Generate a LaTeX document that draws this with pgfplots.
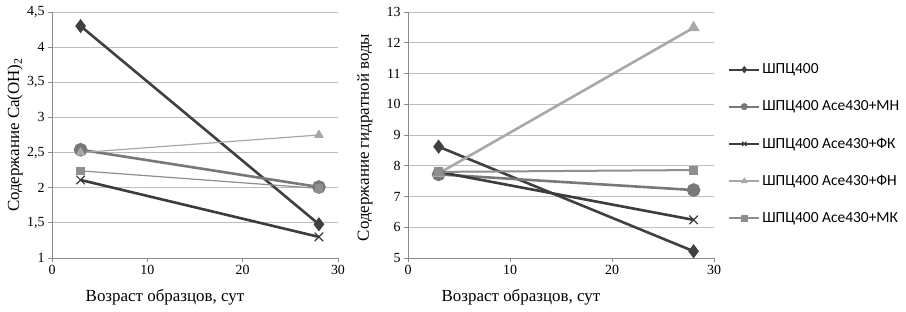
\documentclass[border=0pt]{standalone}
\usepackage{pgfplots}
\pgfplotsset{compat=1.18}
\usepackage{fontspec}
\setmainfont{Liberation Serif}
\newfontfamily\legfont{Carlito}
\definecolor{cA}{HTML}{404040}
\definecolor{cB}{HTML}{787878}
\definecolor{cC}{HTML}{3C3C3C}
\definecolor{cD}{HTML}{A8A8A8}
\definecolor{cE}{HTML}{8E8E8E}
\definecolor{gridc}{HTML}{BDBDBD}
\definecolor{axc}{HTML}{8A8A8A}
\pgfplotsset{
  mystyle/.style={
    scale only axis,
    axis lines*=left,
    axis line style={axc, line width=0.8bp, -},
    ymajorgrids, grid style={gridc, line width=0.8bp},
    xmin=0, xmax=30, xtick={0,10,20,30},
    tick style={axc, line width=0.8bp},
    tick align=outside, major tick length=4bp,
    xtick pos=left, ytick pos=left,
    /pgf/number format/assume math mode=true,
    /pgf/number format/use comma,
    tick label style={font=\fontsize{14}{16}\selectfont},
    label style={font=\fontsize{17}{19}\selectfont},
    xlabel={Возраст образцов, сут},
    anchor=south west,
  },
  sA/.style={cA, line width=2.6bp, mark=diamond*, mark size=5bp, mark options={solid, fill=cA}},
  sB/.style={cB, line width=2.6bp, mark=*, mark size=5.5bp, mark options={solid, fill=cB}},
  sC/.style={cC, line width=2.6bp, mark=x, mark size=6bp, mark options={solid, line width=1.2bp}},
  sE/.style={cE, mark=square*, mark size=3.5bp, mark options={solid, fill=cE}},
}
\begin{document}
\begin{tikzpicture}
\path[use as bounding box] (0,0) rectangle (906bp,312bp);
\begin{axis}[mystyle,
  at={(52bp,54bp)}, width=286bp, height=246bp,
  ymin=1, ymax=4.5, ytick={1,1.5,...,4.5},
  yticklabel style={/pgf/number format/fixed, /pgf/number format/precision=1},
  ylabel={Содержание Ca(OH)\textsubscript{2}},
  xlabel style={at={(axis description cs:0.395,0)}, anchor=center, yshift=-39bp},
  ylabel style={at={(axis description cs:-0.129,0.5)}, anchor=center},
]
\addplot[sA] coordinates {(3,4.30) (28,1.48)};
\addplot[sB] coordinates {(3,2.54) (28,2.01)};
\addplot[sC] coordinates {(3,2.11) (28,1.30)};
\addplot[cD, line width=1.2bp, mark=triangle*, mark size=4.5bp, mark options={solid, fill=cD}] coordinates {(3,2.50) (28,2.75)};
\addplot[sE, line width=1.2bp] coordinates {(3,2.24) (28,1.99)};
\end{axis}
\begin{axis}[mystyle,
  at={(408bp,54bp)}, width=306bp, height=246bp,
  ymin=5, ymax=13, ytick={5,6,...,13},
  ylabel={Содержание гидратной воды},
  xlabel style={at={(axis description cs:0.369,0)}, anchor=center, yshift=-39bp},
  ylabel style={at={(axis description cs:-0.141,0.49)}, anchor=center},
  legend style={at={(axis description cs:1.046,0.790)}, anchor=north west, draw=none, fill=none,
    font=\legfont\fontsize{15.5}{17}\selectfont, row sep=25.5bp, inner sep=0pt,
    nodes={inner xsep=2bp, inner ysep=0pt}},
  legend cell align=left,
  legend image code/.code={\draw[#1, line width=2bp, mark=none] (0bp,0bp) -- (30bp,0bp);
    \draw[#1, line width=1bp, mark size=3bp] plot coordinates {(15bp,0bp)};},
]
\addplot[sA] coordinates {(3,8.62) (28,5.22)};
\addlegendentry{ШПЦ400}
\addplot[sB] coordinates {(3,7.72) (28,7.21)};
\addlegendentry{ШПЦ400 Ace430+МН}
\addplot[sC] coordinates {(3,7.80) (28,6.24)};
\addlegendentry{ШПЦ400 Ace430+ФК}
\addplot[cD, line width=2.6bp, mark=triangle*, mark size=4.5bp, mark options={solid, fill=cD}] coordinates {(3,7.75) (28,12.49)};
\addlegendentry{ШПЦ400 Ace430+ФН}
\addplot[sE, line width=2bp] coordinates {(3,7.80) (28,7.86)};
\addlegendentry{ШПЦ400 Ace430+МК}
\end{axis}
\end{tikzpicture}
\end{document}
